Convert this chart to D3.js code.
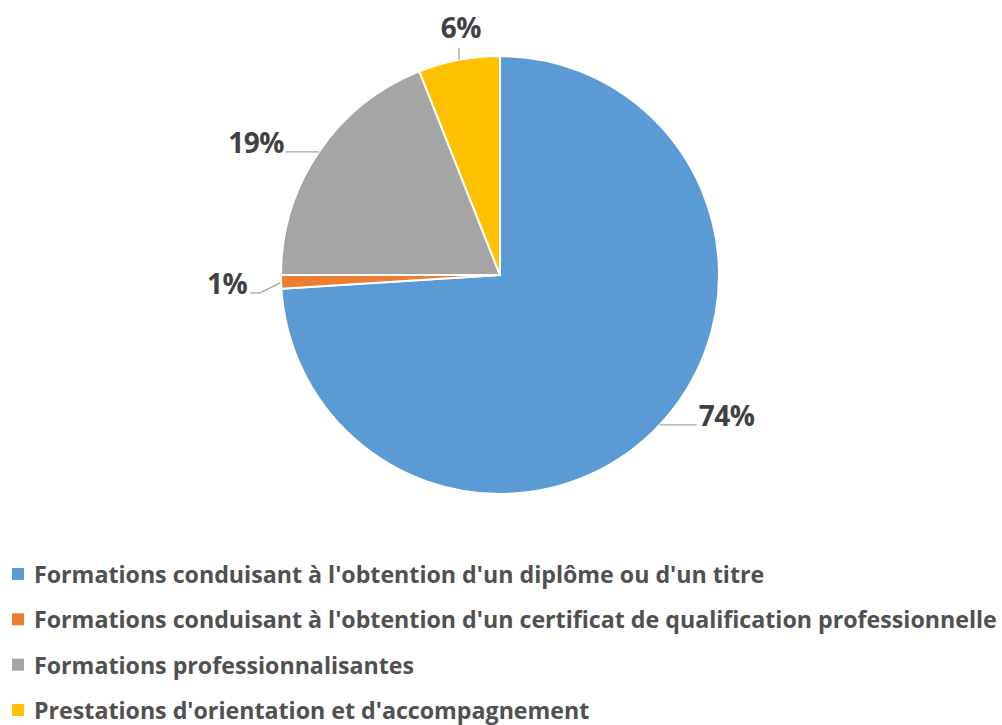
<!DOCTYPE html>
<html><head><meta charset="utf-8">
<script src="https://cdn.jsdelivr.net/npm/d3@7"></script>
<style>body{margin:0;background:#fff}svg{display:block}text{font-variant-ligatures:none}</style>
</head><body>
<svg id="c" width="1002" height="725"></svg>
<script>
const categories = [
  "Formations conduisant à l'obtention d'un diplôme ou d'un titre",
  "Formations conduisant à l'obtention d'un certificat de qualification professionnelle",
  "Formations professionnalisantes",
  "Prestations d'orientation et d'accompagnement"
];
const values = [74, 1, 19, 6];
const valueLabels = ["74%", "1%", "19%", "6%"];
const colors = ["#5B9BD5", "#ED7D31", "#A5A5A5", "#FFC000"];

const FONT = "'Open Sans', Lato, sans-serif";
const svg = d3.select("#c");
const cx = 500, cy = 275, R = 219;
const g = svg.append("g").attr("transform", `translate(${cx},${cy})`);

const pie = d3.pie().sort(null).value(d => d)(values);
const arc = d3.arc().innerRadius(0).outerRadius(R);

g.selectAll("path.slice").data(pie).join("path")
  .attr("class", "slice")
  .attr("d", arc)
  .attr("fill", (d, i) => colors[i])
  .attr("stroke", "#fff").attr("stroke-width", 2).attr("stroke-linejoin", "round");

pie.forEach((d, i) => {
  const mid = (d.startAngle + d.endAngle) / 2;
  const px = R * Math.sin(mid), py = -R * Math.cos(mid);
  let pts, tx, ty, anchor;
  if (i === 0) {
    pts = [[px, py], [px + 37, py]]; tx = px + 39; ty = py + 1; anchor = "start";
  } else if (i === 1) {
    pts = [[px - 1, py + 1], [px - 21, py + 11], [px - 31, py + 11]];
    tx = px - 34; ty = py + 12; anchor = "end";
  } else if (i === 2) {
    pts = [[px, py], [px - 33, py]]; tx = px - 35; ty = py + 1; anchor = "end";
  } else {
    pts = [[px, py], [px, py - 12]]; tx = px + 2; ty = py - 22; anchor = "middle";
  }
  g.append("path")
    .attr("d", d3.line()(pts))
    .attr("fill", "none").attr("stroke", "#A6A6A6").attr("stroke-width", 1.3);
  g.append("text")
    .attr("x", tx).attr("y", ty)
    .attr("text-anchor", anchor)
    .attr("font-family", FONT)
    .attr("font-weight", 700)
    .attr("font-size", 28)
    .attr("letter-spacing", -0.5)
    .attr("fill", "#404040")
    .text(valueLabels[i]);
});

// legend
const lg = svg.append("g");
const rowY = d3.scalePoint().domain(d3.range(categories.length)).range([583, 719]);
const texts = [];
categories.forEach((c, i) => {
  const y = rowY(i);
  lg.append("rect").attr("x", 12).attr("y", y - 15).attr("width", 12).attr("height", 12).attr("fill", colors[i]);
  texts.push(lg.append("text").attr("x", 34).attr("y", y)
    .attr("font-family", FONT)
    .attr("font-weight", 700).attr("font-size", 22)
    .attr("fill", "#505050")
    .text(c));
});
// fit the longest legend entry to the reference width
const w = texts[1].node().getComputedTextLength();
const fs = 22 * 963 / w;
texts.forEach(t => t.attr("font-size", fs));
</script>
</body></html>
